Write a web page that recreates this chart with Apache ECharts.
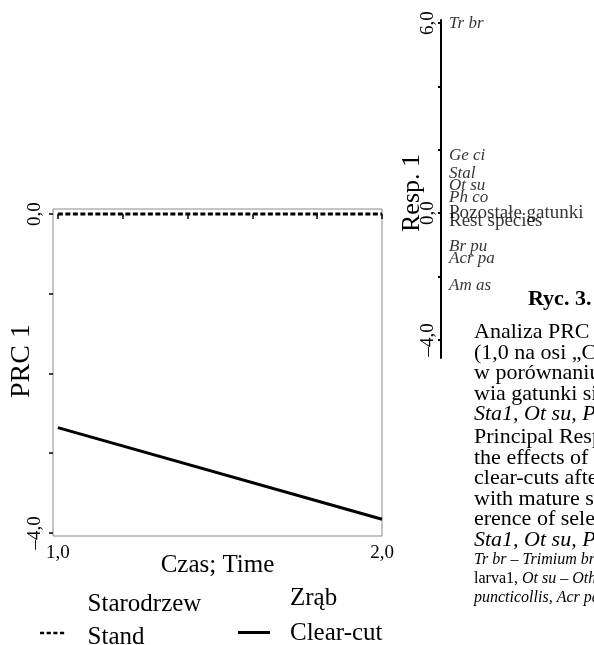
<!DOCTYPE html>
<html>
<head>
<meta charset="utf-8">
<script src="https://cdn.jsdelivr.net/npm/echarts@6/dist/echarts.min.js"></script>
<style>html,body{margin:0;padding:0;background:#fff}#c{width:594px;height:645px}</style>
</head>
<body>
<div id="c"></div>
<script>
// ---- data ----
const times = [1.0, 2.0];
const standPRC = [0.0, 0.0];
const clearcutPRC = [-2.68, -3.83];
const seriesNames = ['Stand', 'Clear-cut'];
const legendPL = ['Starodrzew', 'Zrąb'];
const legendEN = ['Stand', 'Clear-cut'];
const timeTicks = [1.0, 1.2, 1.4, 1.6, 1.8, 2.0];
const timeTickLabels = [1.0, 2.0];
const prcTicks = [0, -1, -2, -3, -4];
const prcTickLabels = [0, -4];
const species = ['Tr br', 'Ge ci', 'Stal', 'Ot su', 'Ph co', 'Pozostałe gatunki\nRest species', 'Br pu', 'Acr pa', 'Am as'];
const speciesWeights = [6.0, 1.81, 1.25, 0.88, 0.50, 0.0, -1.06, -1.43, -2.27];
const respTicks = [6, 4, 2, 0, -2, -4];
const respTickLabels = [6, 0, -4];
const captionTitle = 'Ryc. 3.';
const captionLines = [
  'Analiza PRC (Principal Response Curves)',
  '(1,0 na osi „Czas; Time”) wskazuje,',
  'w porównaniu ze starodrzewem',
  'wia gatunki silnie reagujące',
  'Sta1, Ot su, Ph co'
];
const captionLinesEn = [
  'Principal Response Curves analysis',
  'the effects of forest management',
  'clear-cuts after the cutting',
  'with mature stands, the pref-',
  'erence of selected species',
  'Sta1, Ot su, Ph co'
];
const footnoteLines = [
  'Tr br – Trimium brevicorne',
  'larva1, Ot su – Othius subuliformis',
  'puncticollis, Acr pa – Acrotrichis'
];

// ---- chart ----
const FF = 'Liberation Serif';
const fmt = v => (v < 0 ? '–' : '') + Math.abs(v).toFixed(1).replace('.', ',');
const chart = echarts.init(document.getElementById('c'), null, {renderer: 'canvas'});

const graphics = [
  {type: 'text', x: 22, y: 361, rotation: Math.PI / 2,
   style: {text: 'PRC 1', font: '28px "Liberation Serif"', fill: '#000', align: 'center', verticalAlign: 'middle'}},
  {type: 'text', x: 412, y: 193, rotation: Math.PI / 2,
   style: {text: 'Resp. 1', font: '26px "Liberation Serif"', fill: '#000', align: 'center', verticalAlign: 'middle'}},
  {type: 'text', x: 528, y: 299,
   style: {text: captionTitle, font: 'bold 22px "Liberation Serif"', fill: '#000', align: 'left', verticalAlign: 'middle'}}
];
const yMain = [332, 353, 373, 394, 414];
captionLines.forEach((t, i) => graphics.push({type: 'text', x: 474, y: yMain[i],
  style: {text: t, font: (i === 4 ? 'italic ' : '') + '22px "Liberation Serif"', fill: '#000', align: 'left', verticalAlign: 'middle'}}));
const yEn = [437, 458, 478, 499, 519, 540];
captionLinesEn.forEach((t, i) => graphics.push({type: 'text', x: 474, y: yEn[i],
  style: {text: t, font: (i === 5 ? 'italic ' : '') + '22px "Liberation Serif"', fill: '#000', align: 'left', verticalAlign: 'middle'}}));
const yFoot = [560, 579, 598];
footnoteLines.forEach((t, i) => {
  if (i === 1) {
    const parts = t.split(', ');
    graphics.push({type: 'text', x: 474, y: yFoot[i],
      style: {text: '{r|' + parts[0] + ', }{i|' + parts.slice(1).join(', ') + '}', fill: '#000', align: 'left', verticalAlign: 'middle',
        rich: {r: {font: '16px "Liberation Serif"'}, i: {font: 'italic 16px "Liberation Serif"'}}}});
  } else {
    graphics.push({type: 'text', x: 474, y: yFoot[i],
      style: {text: t, font: 'italic 16px "Liberation Serif"', fill: '#000', align: 'left', verticalAlign: 'middle'}});
  }
});

const dashIcon = 'path://M0,0H5V3H0Z M8,0H13V3H8Z M16,0H21V3H16Z M24,0H29V3H24Z';
const solidIcon = 'path://M0,0H32V3H0Z';
const legendFmt = n => {
  const i = seriesNames.indexOf(n);
  return '{a|' + legendPL[i] + '}\n{a|' + legendEN[i] + '}\n{s| }';
};

const option = {
  animation: false,
  backgroundColor: '#fff',
  textStyle: {fontFamily: FF, color: '#000'},
  grid: [
    {left: 53, top: 209, width: 329, height: 327, show: true, borderColor: '#8a8a8a', borderWidth: 1, backgroundColor: 'transparent'},
    {left: 441, top: 20, width: 1, height: 338, show: false}
  ],
  legend: [
    {data: [{name: seriesNames[0], icon: dashIcon}], left: 40, top: 592, padding: 0, itemWidth: 29, itemHeight: 2.5,
     formatter: legendFmt, itemStyle: {color: '#000'},
     textStyle: {fontFamily: FF, fontSize: 25, color: '#000', padding: [0, 0, 0, 16],
       rich: {a: {fontFamily: FF, fontSize: 25, color: '#000', lineHeight: 33}, s: {fontSize: 10, lineHeight: 24}}}},
    {data: [{name: seriesNames[1], icon: solidIcon}], left: 238, top: 586, padding: 0, itemWidth: 32, itemHeight: 3,
     formatter: legendFmt, itemStyle: {color: '#000'},
     textStyle: {fontFamily: FF, fontSize: 25, color: '#000', padding: [0, 0, 0, 15],
       rich: {a: {fontFamily: FF, fontSize: 25, color: '#000', lineHeight: 35}, s: {fontSize: 10, lineHeight: 33}}}}
  ],
  xAxis: [
    {gridIndex: 0, type: 'value', min: 0.985, max: 2.0,
     axisLine: {show: false},
     axisTick: {show: true, customValues: timeTicks, length: 5, lineStyle: {color: '#000', width: 1.5}},
     axisLabel: {customValues: timeTickLabels, formatter: fmt, fontFamily: FF, fontSize: 19, color: '#000', margin: 8},
     splitLine: {show: false},
     name: 'Czas; Time', nameLocation: 'middle', nameGap: 17, nameMoveOverlap: false,
     nameTextStyle: {fontFamily: FF, fontSize: 25, color: '#000'}},
    {gridIndex: 1, type: 'value', min: 0, max: 1, show: false}
  ],
  yAxis: [
    {gridIndex: 0, type: 'value', min: -4.04, max: 0.063,
     axisLine: {show: false},
     axisTick: {show: true, customValues: prcTicks, length: 4, lineStyle: {color: '#000', width: 1.5}},
     axisLabel: {customValues: prcTickLabels, formatter: fmt, rotate: 90, fontFamily: FF, fontSize: 19, color: '#000', margin: 8},
     splitLine: {show: false}},
    {gridIndex: 1, type: 'value', min: -4.57, max: 6.1,
     axisLine: {show: true, lineStyle: {color: '#000', width: 2}},
     axisTick: {show: true, customValues: respTicks, length: 3, lineStyle: {color: '#000', width: 2}},
     axisLabel: {customValues: respTickLabels, formatter: fmt, rotate: 90, fontFamily: FF, fontSize: 19, color: '#000', margin: 3},
     splitLine: {show: false}},
    {gridIndex: 1, type: 'value', min: -4.57, max: 6.1,
     axisLine: {show: false},
     axisTick: {show: true, inside: true, customValues: respTicks, length: 3, lineStyle: {color: '#000', width: 2}},
     axisLabel: {show: false},
     splitLine: {show: false}}
  ],
  series: [
    {name: seriesNames[0], type: 'line', xAxisIndex: 0, yAxisIndex: 0, symbol: 'none',
     data: times.map((t, i) => [t, standPRC[i]]),
     lineStyle: {color: '#000', width: 3, type: [5, 2.5]}, itemStyle: {color: '#000'}},
    {name: seriesNames[1], type: 'line', xAxisIndex: 0, yAxisIndex: 0, symbol: 'none',
     data: times.map((t, i) => [t, clearcutPRC[i]]),
     lineStyle: {color: '#000', width: 3}, itemStyle: {color: '#000'}},
    {name: 'species', type: 'scatter', xAxisIndex: 1, yAxisIndex: 1, symbolSize: 0, silent: true,
     data: species.map((s, i) => {
       const isRest = s.indexOf('\n') >= 0;
       return {name: s, value: [0, speciesWeights[i]],
         label: isRest ? {fontStyle: 'normal', fontSize: 19, lineHeight: 8, offset: [0, 4]} : {}};
     }),
     label: {show: true, position: 'right', distance: 8, formatter: p => p.name,
       fontFamily: FF, fontStyle: 'italic', fontSize: 17, color: '#000'}}
  ],
  graphic: graphics
};
chart.setOption(option);
</script>
</body>
</html>
